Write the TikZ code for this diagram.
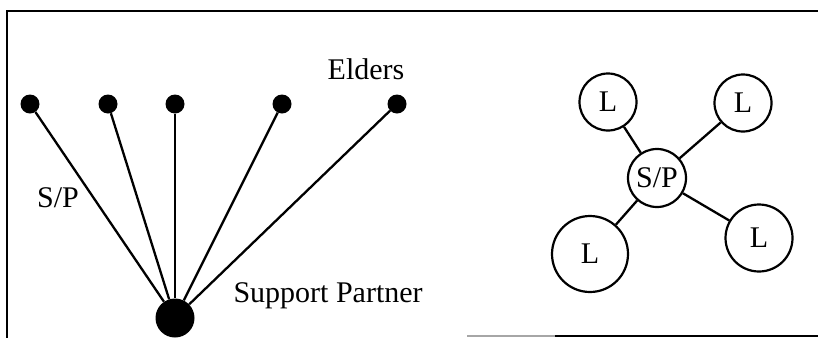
\documentclass[tikz,border=0pt]{standalone}
\usepackage{fontspec}
\setmainfont{Liberation Serif}
\usetikzlibrary{positioning}

\begin{document}
\begin{tikzpicture}[
  x=1pt,y=-1pt,
  every node/.style={font=\fontsize{30}{32}\selectfont},
  elder/.style={circle,fill=black,inner sep=0pt,minimum size=19pt},
  partner/.style={circle,fill=black,inner sep=0pt,minimum size=39pt},
  lead/.style={circle,draw,line width=2.2pt,inner sep=0pt,minimum size=#1},
  tie/.style={line width=2.3pt}
]
  \useasboundingbox (0,0) rectangle (818,338);
  % frame
  \draw[line width=2.4pt] (818,11) -- (7,11) -- (7,338);
  \draw[line width=1.2pt,black!35] (467,336) -- (555,336);
  \draw[line width=2.4pt] (555,336) -- (818,336);

  % elders and the support partner
  \node[partner] (hub) at (175,318) {};
  \node[elder] (e1) at (30,104) {};
  \node[elder] (e2) at (108,104) {};
  \node[elder] (e3) at (175,104) {};
  \node[elder] (e4) at (282,104) {};
  \node[elder] (e5) at (397,104) {};
  \node (elders) at (366,69) {Elders};
  \node[anchor=west] (partnerlabel) at (230,296) {Support Partner};

  \draw[tie] (e1) -- node[pos=0.45,left=10pt] (splabel) {S/P} (hub);
  \foreach \e in {e2,e3,e4,e5}
    \draw[tie] (\e) -- (hub);

  % leaders round the support partner
  \node[lead=58pt] (sp) at (657,178) {S/P};
  \node[lead=57pt] (ltl) at (608,102) {L};
  \node[lead=57pt] (ltr) at (743,103) {L};
  \node[lead=76pt] (lbl) at (590,254) {L};
  \node[lead=67pt] (lbr) at (759,238) {L};

  \foreach \l in {ltl,ltr,lbl,lbr}
    \draw[tie] (sp) -- (\l);
\end{tikzpicture}
\end{document}
